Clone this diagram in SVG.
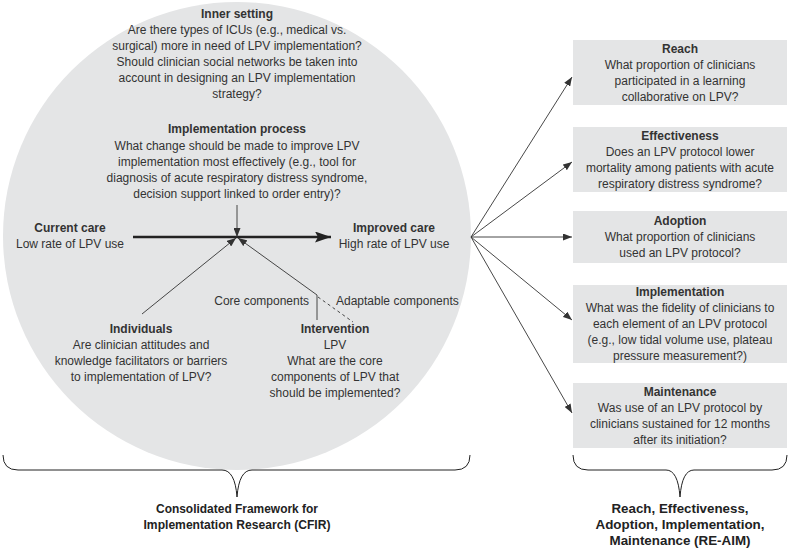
<svg xmlns="http://www.w3.org/2000/svg" width="791" height="548" viewBox="0 0 791 548">
<style>
.t{font-family:"Liberation Sans",Arial,sans-serif;font-size:12px;fill:#333;text-anchor:middle}
.b{font-weight:bold}
.ln{stroke:#333;stroke-width:0.9;fill:none}
.box{fill:#e4e5e6}
.br{stroke:#222;stroke-width:1;fill:none}
.cap{font-family:"Liberation Sans",Arial,sans-serif;font-size:13.5px;font-weight:bold;fill:#222;text-anchor:middle}
</style>
<defs>
<marker id="ah" markerUnits="userSpaceOnUse" markerWidth="9" markerHeight="7" refX="9" refY="3.5" orient="auto"><path d="M0,0 L9,3.5 L0,7 z" fill="#333"/></marker>
<marker id="ahb" markerUnits="userSpaceOnUse" markerWidth="16" markerHeight="11" refX="16" refY="5.5" orient="auto"><path d="M0,0 L16,5.5 L0,11 L3,5.5 z" fill="#222"/></marker>
</defs>
<circle id="cfir-circle" cx="237" cy="236" r="234" fill="#e4e5e6"/>
<g id="inner-setting">
<text class="t b" x="237" y="18">Inner setting</text>
<text class="t" x="237" y="34">Are there types of ICUs (e.g., medical vs.</text>
<text class="t" x="237" y="50">surgical) more in need of LPV implementation?</text>
<text class="t" x="237" y="66">Should clinician social networks be taken into</text>
<text class="t" x="237" y="82">account in designing an LPV implementation</text>
<text class="t" x="237" y="98">strategy?</text>
</g>
<g id="implementation-process">
<text class="t b" x="237" y="133">Implementation process</text>
<text class="t" x="237" y="150">What change should be made to improve LPV</text>
<text class="t" x="237" y="166">implementation most effectively (e.g., tool for</text>
<text class="t" x="237" y="182">diagnosis of acute respiratory distress syndrome,</text>
<text class="t" x="237" y="198">decision support linked to order entry)?</text>
</g>
<g id="current-care">
<text class="t b" x="70" y="232">Current care</text>
<text class="t" x="70" y="248">Low rate of LPV use</text>
</g>
<g id="improved-care">
<text class="t b" x="394" y="232">Improved care</text>
<text class="t" x="394" y="248">High rate of LPV use</text>
</g>
<g id="individuals">
<text class="t b" x="141" y="333">Individuals</text>
<text class="t" x="141" y="349">Are clinician attitudes and</text>
<text class="t" x="141" y="365">knowledge facilitators or barriers</text>
<text class="t" x="141" y="381">to implementation of LPV?</text>
</g>
<g id="intervention">
<text class="t b" x="335" y="333">Intervention</text>
<text class="t" x="335" y="349">LPV</text>
<text class="t" x="335" y="365">What are the core</text>
<text class="t" x="335" y="381">components of LPV that</text>
<text class="t" x="335" y="397">should be implemented?</text>
</g>
<g id="component-labels">
<text class="t" x="309" y="305" style="text-anchor:end">Core components</text>
<text class="t" x="336" y="305" style="text-anchor:start">Adaptable components</text>
</g>
<g id="reach">
<rect class="box" x="573" y="40" width="214" height="65"/>
<text class="t b" x="680" y="53">Reach</text>
<text class="t" x="680" y="69">What proportion of clinicians</text>
<text class="t" x="680" y="85">participated in a learning</text>
<text class="t" x="680" y="101">collaborative on LPV?</text>
</g>
<g id="effectiveness">
<rect class="box" x="573" y="127" width="214" height="65"/>
<text class="t b" x="680" y="140">Effectiveness</text>
<text class="t" x="680" y="156">Does an LPV protocol lower</text>
<text class="t" x="680" y="172">mortality among patients with acute</text>
<text class="t" x="680" y="188">respiratory distress syndrome?</text>
</g>
<g id="adoption">
<rect class="box" x="573" y="211" width="214" height="52"/>
<text class="t b" x="680" y="225">Adoption</text>
<text class="t" x="680" y="241">What proportion of clinicians</text>
<text class="t" x="680" y="257">used an LPV protocol?</text>
</g>
<g id="implementation">
<rect class="box" x="573" y="285" width="214" height="78"/>
<text class="t b" x="680" y="296">Implementation</text>
<text class="t" x="680" y="312">What was the fidelity of clinicians to</text>
<text class="t" x="680" y="328">each element of an LPV protocol</text>
<text class="t" x="680" y="344">(e.g., low tidal volume use, plateau</text>
<text class="t" x="680" y="360">pressure measurement?)</text>
</g>
<g id="maintenance">
<rect class="box" x="573" y="383" width="214" height="65"/>
<text class="t b" x="680" y="396">Maintenance</text>
<text class="t" x="680" y="412">Was use of an LPV protocol by</text>
<text class="t" x="680" y="428">clinicians sustained for 12 months</text>
<text class="t" x="680" y="444">after its initiation?</text>
</g>
<g id="connectors">
<line x1="133" y1="237" x2="331" y2="237" stroke="#222" stroke-width="2.5" marker-end="url(#ahb)"/>
<line class="ln" x1="237" y1="205" x2="237" y2="237" marker-end="url(#ah)"/>
<line class="ln" x1="142" y1="314" x2="236" y2="238" marker-end="url(#ah)"/>
<polyline class="ln" points="317,320 317,295 238,238" marker-end="url(#ah)"/>
<line class="ln" x1="318" y1="297" x2="353" y2="322" stroke-dasharray="3,3"/>
<line class="ln" x1="471" y1="237" x2="572" y2="77" marker-end="url(#ah)"/>
<line class="ln" x1="471" y1="237" x2="572" y2="162" marker-end="url(#ah)"/>
<line class="ln" x1="471" y1="237" x2="572" y2="237" marker-end="url(#ah)"/>
<line class="ln" x1="471" y1="237" x2="572" y2="320" marker-end="url(#ah)"/>
<line class="ln" x1="471" y1="237" x2="572" y2="413" marker-end="url(#ah)"/>
</g>
<g id="cfir-brace">
<path class="br" d="M3,455 Q3,470 18,470 L222,470 Q235,470 237,497 Q239,470 252,470 L455,470 Q470,470 470,455"/>
<text class="cap" x="237" y="513" textLength="162" lengthAdjust="spacingAndGlyphs">Consolidated Framework for</text>
<text class="cap" x="237" y="529" textLength="187" lengthAdjust="spacingAndGlyphs">Implementation Research (CFIR)</text>
</g>
<g id="reaim-brace">
<path class="br" d="M573,455 Q573,470 588,470 L666,470 Q678,470 680,497 Q682,470 694,470 L772,470 Q787,470 787,455"/>
<text class="cap" x="680" y="513" textLength="137" lengthAdjust="spacingAndGlyphs">Reach, Effectiveness,</text>
<text class="cap" x="680" y="529" textLength="169" lengthAdjust="spacingAndGlyphs">Adoption, Implementation,</text>
<text class="cap" x="680" y="545" textLength="141" lengthAdjust="spacingAndGlyphs">Maintenance (RE-AIM)</text>
</g>
</svg>
